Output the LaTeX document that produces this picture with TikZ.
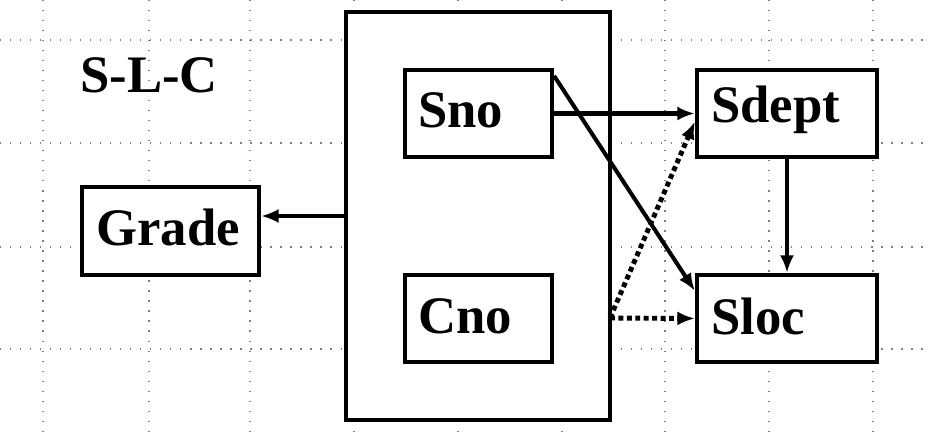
\documentclass[tikz,border=0pt]{standalone}
\usepackage{fontspec}
\setmainfont{Liberation Serif}
\usetikzlibrary{arrows.meta}

\begin{document}
\begin{tikzpicture}[x=0.02cm,y=-0.02cm]
\useasboundingbox (0,0) rectangle (930,436);
% dotted grid
\foreach \x in {43,149,250,354,458,562,665,769,873}
    \draw [gray,line width=0.7pt,dash pattern=on 0.7pt off 5pt] (\x,0) -- (\x,436);
\foreach \y in {40,143,247,349}
    \draw [gray,line width=0.7pt,dash pattern=on 0.7pt off 5pt] (0,\y) -- (930,\y);

\begin{scope}[every node/.style={draw,line width=2.4pt,fill=white,inner sep=0pt}]
    \node (O) at (478,216) [minimum width=264*0.02cm,minimum height=408*0.02cm] {};
    \node (A) at (478.5,113.5) [minimum width=147*0.02cm,minimum height=87*0.02cm] {};
    \node (B) at (478.5,318.5) [minimum width=147*0.02cm,minimum height=87*0.02cm] {};
    \node (C) at (787,113.5) [minimum width=180*0.02cm,minimum height=87*0.02cm] {};
    \node (D) at (787,318.5) [minimum width=180*0.02cm,minimum height=87*0.02cm] {};
    \node (G) at (170.5,231) [minimum width=177*0.02cm,minimum height=88*0.02cm] {};
\end{scope}

\begin{scope}[every node/.style={anchor=west,font=\bfseries\fontsize{30}{31}\selectfont,inner sep=0pt}]
    \node at (80,75) {S-L-C};
    \node at (418,110) {Sno};
    \node at (418,316) {Cno};
    \node at (711,110) {Sdept};
    \node at (711,316) {Sloc};
    \node at (96,227) {Grade};
\end{scope}

\coordinate (P) at (610,318);
\coordinate (Q) at (346,216);
\begin{scope}[>={Latex[length=10pt,width=8pt]},line width=2.3pt]
    \draw [->] (Q) -- (G.east |- Q);
    \draw [->] (A.east) -- (C.west);
    \draw [->] ([yshift=-8*0.02cm]A.north east) -- ([yshift=-18*0.02cm]D.north west);
    \draw [->] (C.south) -- (D.north);
    \draw [->,dotted,line width=2.8pt] (P) -- ([yshift=-8*0.02cm]C.west);
    \draw [->,dotted,line width=2.8pt] (P) -- (D.west);
\end{scope}
\end{tikzpicture}
\end{document}
